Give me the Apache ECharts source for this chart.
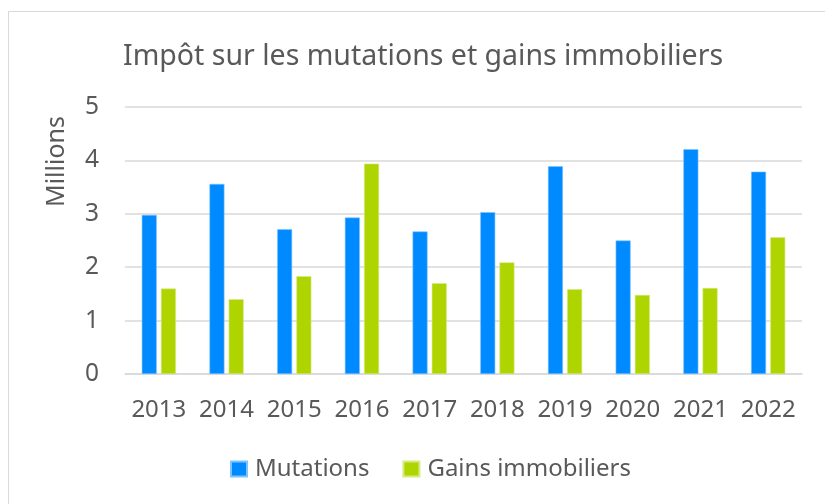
<!DOCTYPE html>
<html>
<head>
<meta charset="utf-8">
<script src="https://cdn.jsdelivr.net/npm/echarts@6/dist/echarts.min.js"></script>
<style>
  html, body { margin: 0; padding: 0; background: #fff; }
  #main { width: 825px; height: 504px; }
</style>
</head>
<body>
<div id="main"></div>
<script>
    // données (en millions)
    var years = ['2013', '2014', '2015', '2016', '2017', '2018', '2019', '2020', '2021', '2022'];
    var mutations = [2.98, 3.56, 2.71, 2.93, 2.67, 3.03, 3.89, 2.50, 4.21, 3.79];
    var gains = [1.60, 1.40, 1.83, 3.94, 1.70, 2.09, 1.59, 1.48, 1.61, 2.56];

    var myChart = echarts.init(document.getElementById('main'));
    var font = 'Noto Sans';

    var option = {
        backgroundColor: '#fff',
        animation: false,
        graphic: [{
            type: 'rect',
            shape: { x: 8.5, y: 11.5, width: 830, height: 500 },
            style: { fill: 'none', stroke: '#d9d9d9', lineWidth: 1 },
            silent: true
        }],
        title: {
            text: 'Impôt sur les mutations et gains immobiliers',
            left: 118,
            top: 37,
            textStyle: { fontFamily: font, fontWeight: 'normal', fontSize: 28.5, color: '#595959' }
        },
        legend: {
            bottom: 18,
            left: 225,
            itemWidth: 16,
            itemHeight: 15,
            itemGap: 33,
            icon: 'rect',
            textStyle: { fontFamily: font, fontSize: 24, color: '#595959', padding: [0, 0, 0, 3] },
            data: ['Mutations', 'Gains immobiliers']
        },
        grid: { left: 125, right: 23, top: 107, bottom: 130 },
        xAxis: {
            type: 'category',
            data: years,
            axisLine: { lineStyle: { color: '#d9d9d9', width: 1.5 } },
            axisTick: { show: false },
            axisLabel: { interval: 0, fontFamily: font, fontSize: 24, color: '#595959', margin: 24 }
        },
        yAxis: {
            type: 'value',
            min: 0,
            max: 5,
            interval: 1,
            name: 'Millions',
            nameLocation: 'middle',
            nameRotate: 90,
            nameGap: 56,
            nameTextStyle: { fontFamily: font, fontSize: 25, color: '#595959', padding: [0, 0, 0, 158] },
            axisLine: { show: false },
            axisTick: { show: false },
            splitLine: { lineStyle: { color: '#d9d9d9', width: 1.5 } },
            axisLabel: { fontFamily: font, fontSize: 24.5, color: '#595959', margin: 26 }
        },
        series: [
            {
                name: 'Mutations',
                type: 'bar',
                data: mutations,
                barWidth: 15,
                barGap: '28%',
                itemStyle: { color: '#008aff', borderColor: '#7cc4ff', borderWidth: 0.6 }
            },
            {
                name: 'Gains immobiliers',
                type: 'bar',
                data: gains,
                barWidth: 15,
                itemStyle: { color: '#aed500', borderColor: '#d6ea80', borderWidth: 0.6 }
            }
        ]
    };

    myChart.setOption(option);
</script>
</body>
</html>
